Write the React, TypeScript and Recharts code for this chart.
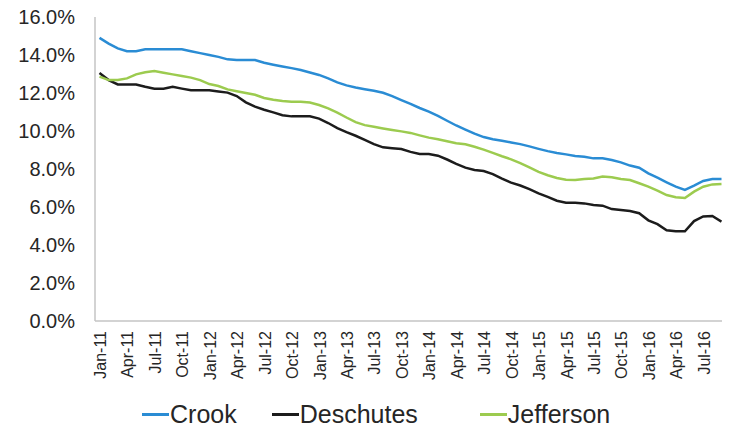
import React from 'react';
import { LineChart, Line, XAxis, YAxis, Legend } from 'recharts';

const months = [
  'Jan-11','Feb-11','Mar-11','Apr-11','May-11','Jun-11','Jul-11','Aug-11','Sep-11','Oct-11','Nov-11','Dec-11',
  'Jan-12','Feb-12','Mar-12','Apr-12','May-12','Jun-12','Jul-12','Aug-12','Sep-12','Oct-12','Nov-12','Dec-12',
  'Jan-13','Feb-13','Mar-13','Apr-13','May-13','Jun-13','Jul-13','Aug-13','Sep-13','Oct-13','Nov-13','Dec-13',
  'Jan-14','Feb-14','Mar-14','Apr-14','May-14','Jun-14','Jul-14','Aug-14','Sep-14','Oct-14','Nov-14','Dec-14',
  'Jan-15','Feb-15','Mar-15','Apr-15','May-15','Jun-15','Jul-15','Aug-15','Sep-15','Oct-15','Nov-15','Dec-15',
  'Jan-16','Feb-16','Mar-16','Apr-16','May-16','Jun-16','Jul-16','Aug-16','Sep-16',
];

const crook = [
  14.9, 14.6, 14.35, 14.2, 14.2, 14.3, 14.3, 14.3, 14.3, 14.3, 14.2, 14.1,
  14.0, 13.9, 13.77, 13.74, 13.74, 13.74, 13.59, 13.49, 13.4, 13.31, 13.21, 13.08,
  12.95, 12.77, 12.56, 12.4, 12.29, 12.2, 12.12, 12.01, 11.84, 11.63, 11.43, 11.21,
  11.02, 10.8, 10.54, 10.29, 10.07, 9.86, 9.68, 9.57, 9.49, 9.4, 9.31, 9.19,
  9.06, 8.94, 8.84, 8.77, 8.68, 8.65, 8.56, 8.56, 8.47, 8.35, 8.18, 8.07,
  7.77, 7.54, 7.3, 7.07, 6.9, 7.12, 7.37, 7.47, 7.47,
];

const deschutes = [
  13.05, 12.68, 12.45, 12.45, 12.45, 12.33, 12.23, 12.23, 12.33, 12.23, 12.14, 12.14,
  12.14, 12.08, 12.02, 11.84, 11.51, 11.28, 11.12, 10.98, 10.83, 10.77, 10.77, 10.77,
  10.65, 10.42, 10.15, 9.94, 9.75, 9.53, 9.31, 9.14, 9.09, 9.05, 8.9, 8.79,
  8.79, 8.7, 8.5, 8.27, 8.07, 7.95, 7.89, 7.73, 7.49, 7.28, 7.13, 6.94,
  6.72, 6.53, 6.33, 6.23, 6.23, 6.19, 6.1, 6.07, 5.89, 5.84, 5.79, 5.67,
  5.3, 5.1, 4.78, 4.72, 4.72, 5.26, 5.5, 5.53, 5.23,
];

const jefferson = [
  12.86, 12.68, 12.68, 12.77, 12.98, 13.09, 13.16, 13.07, 12.98, 12.89, 12.81, 12.68,
  12.47, 12.37, 12.19, 12.09, 12.0, 11.91, 11.74, 11.65, 11.58, 11.54, 11.54, 11.5,
  11.37, 11.19, 10.97, 10.71, 10.47, 10.31, 10.22, 10.13, 10.05, 9.98, 9.9, 9.77,
  9.65, 9.57, 9.46, 9.36, 9.3, 9.17, 9.02, 8.85, 8.67, 8.51, 8.31, 8.08,
  7.85, 7.67, 7.53, 7.43, 7.42, 7.47, 7.5, 7.6, 7.56, 7.47, 7.42, 7.25,
  7.07, 6.86, 6.63, 6.51, 6.47, 6.81, 7.07, 7.19, 7.21,
];

const yTicks = [0, 2, 4, 6, 8, 10, 12, 14, 16];

const data = months.map((m, i) => ({
  month: m,
  Crook: crook[i],
  Deschutes: deschutes[i],
  Jefferson: jefferson[i],
}));

const FONT = '"Liberation Sans", Arial, Helvetica, sans-serif';
const TEXT = '#262626';
const AXIS = '#c4c4c4';
const legendGaps = [134, 35, 62];

function XTick(props: any) {
  const { x, y, payload } = props;
  const ay = y + 10;
  return (
    <text
      x={x}
      y={ay}
      transform={`rotate(-90, ${x}, ${ay})`}
      textAnchor="end"
      dy={6.5}
      fontSize={16}
      fontFamily={FONT}
      fill={TEXT}
    >
      {payload.value}
    </text>
  );
}

function LegendContent(props: any) {
  const { payload } = props;
  return (
    <div
      style={{
        display: 'flex',
        justifyContent: 'flex-start',
        fontFamily: FONT,
        fontSize: 25,
        color: TEXT,
        height: 26,
        lineHeight: '26px',
      }}
    >
      {(payload || []).map((it: any, i: number) => (
        <div key={it.value} style={{ display: 'flex', alignItems: 'center', marginLeft: legendGaps[i] }}>
          <span
            style={{
              display: 'inline-block',
              width: 27,
              height: 3,
              background: it.color,
              marginRight: 1,
            }}
          />
          {it.value}
        </div>
      ))}
    </div>
  );
}

export default function App() {
  return (
    <div>
      <style>{`.recharts-surface{overflow:visible}`}</style>
      <LineChart
        width={722}
        height={419}
        data={data}
        margin={{ top: 9, right: 4, left: 0, bottom: 0 }}
      >
        <XAxis
          dataKey="month"
          interval={2}
          tick={<XTick />}
          tickLine={false}
          tickSize={0}
          tickMargin={0}
          height={80}
          padding={{ left: 4.5, right: 4.5 }}
          axisLine={{ stroke: AXIS, strokeWidth: 1.5 }}
        />
        <YAxis
          width={87}
          domain={[0, 16]}
          ticks={yTicks}
          interval={0}
          tickFormatter={(v: number) => `${v.toFixed(1)}%`}
          tickLine={false}
          tickSize={0}
          tickMargin={20}
          tick={{ fontSize: 20, fontFamily: FONT, fill: TEXT }}
          axisLine={{ stroke: AXIS, strokeWidth: 1.5 }}
        />
        <Legend
          verticalAlign="bottom"
          height={26}
          content={<LegendContent />}
        />
        <Line type="linear" dataKey="Crook" stroke="#2A8CD4" strokeWidth={2.5} dot={false} isAnimationActive={false} />
        <Line type="linear" dataKey="Deschutes" stroke="#1c1c1c" strokeWidth={2.5} dot={false} isAnimationActive={false} />
        <Line type="linear" dataKey="Jefferson" stroke="#9CCB4F" strokeWidth={2.5} dot={false} isAnimationActive={false} />
      </LineChart>
    </div>
  );
}
